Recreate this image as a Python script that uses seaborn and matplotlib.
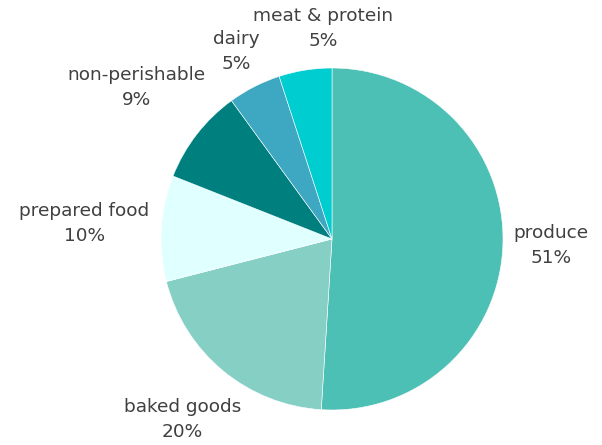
import numpy as np
import matplotlib
matplotlib.use("Agg")
import matplotlib.pyplot as plt
import seaborn as sns

# -----------------------------
# Data
# -----------------------------
categories = ["produce", "baked goods", "prepared food", "non-perishable", "dairy", "meat & protein"]
shares = [51, 20, 10, 9, 5, 5]
colors = ["#4cc0b4", "#85cfc5", "#e0ffff", "#007f7f", "#3ea8c3", "#00cdd0"]
label_dist = [1.28, 1.37, 1.45, 1.45, 1.23, 1.23]
label_nudge = [0, 0, 0, 0, 0, -6.5]  # degrees, keeps the two small labels apart

sns.set_theme(style="white")
plt.rcParams["font.family"] = ["DejaVu Sans"]

fig = plt.figure(figsize=(6.02, 4.45), dpi=100)
ax = fig.add_axes([0, 0, 1, 1])

wedges, _ = ax.pie(
    shares,
    colors=sns.color_palette(colors),
    startangle=90,
    counterclock=False,
    radius=1.0,
    wedgeprops=dict(edgecolor="white", linewidth=0.4),
)

# labels placed along each slice's mid-angle
for w, cat, val, d, nudge in zip(wedges, categories, shares, label_dist, label_nudge):
    ang = np.deg2rad((w.theta1 + w.theta2) / 2 + nudge)
    ax.text(d * np.cos(ang), d * np.sin(ang), f"{cat}\n{val}%",
            ha="center", va="center", fontsize=13.3, color="#404040",
            linespacing=1.5)

# center at (332, 239) px, radius 171 px
scale = 171
ax.set_xlim(-332 / scale, (602 - 332) / scale)
ax.set_ylim(-(445 - 239) / scale, 239 / scale)
ax.set_aspect("equal")
ax.axis("off")

fig.savefig("out.png", dpi=100)
plt.close(fig)
